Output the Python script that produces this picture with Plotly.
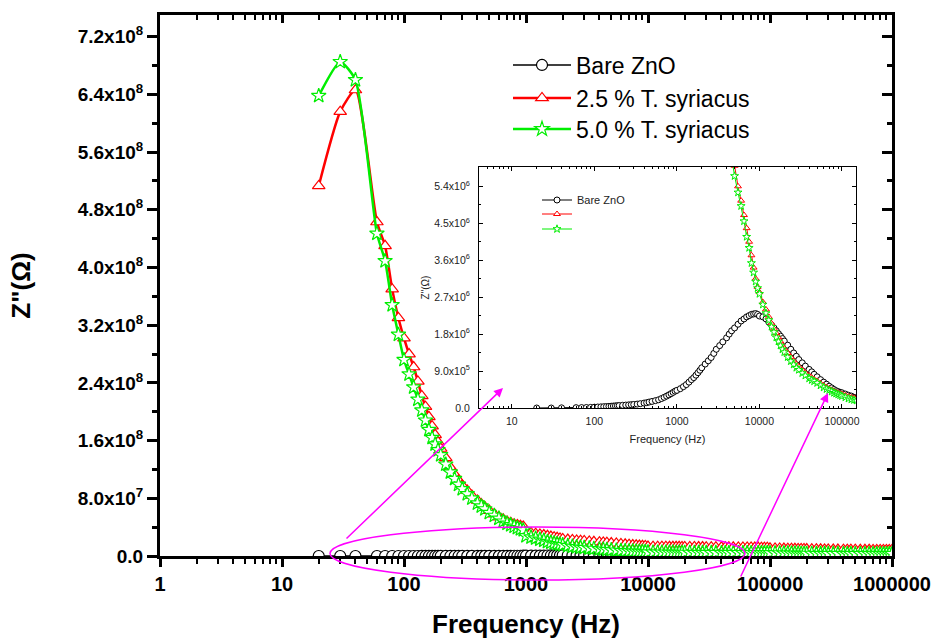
import plotly.graph_objects as go

# ---------------- data ----------------
FREQ = [20, 30, 40, 60, 70, 80, 90, 100, 110, 120, 130, 140, 150, 160, 170, 180, 190, 200,
        220, 240, 260, 280, 300, 330, 360, 400, 430, 460, 500, 550, 600, 650, 700, 750, 800, 850, 900, 950,
        1000, 1100, 1200, 1300, 1400, 1500, 1600, 1700, 1800, 1900, 2000, 2200, 2400, 2600, 2800,
        3000, 3300, 3600, 4000, 4300, 4600, 5000, 5500, 6000, 6500, 7000, 7500, 8000, 8500, 9000, 9500,
        10000, 11000, 12000, 13000, 14000, 15000, 16000, 17000, 18000, 19000, 20000, 22000, 24000, 26000, 28000,
        30000, 33000, 36000, 40000, 43000, 46000, 50000, 55000, 60000, 65000, 70000, 75000, 80000, 85000, 90000, 95000,
        100000, 110000, 120000, 130000, 140000, 150000, 160000, 170000, 180000, 190000, 200000, 220000, 240000,
        260000, 280000, 300000, 330000, 360000, 400000, 430000, 460000, 500000, 550000, 600000, 650000,
        700000, 750000, 800000, 850000, 900000, 950000, 1000000]

BARE_ZNO = [0.0, 0.0, 0.004e6, 0.008e6, 0.010e6, 0.012e6, 0.015e6, 0.020e6, 0.024e6, 0.028e6, 0.032e6,
            0.036e6, 0.040e6, 0.044e6, 0.048e6, 0.052e6, 0.056e6, 0.060e6, 0.066e6, 0.071e6, 0.076e6,
            0.081e6, 0.086e6, 0.095e6, 0.105e6, 0.120e6, 0.130e6, 0.145e6, 0.160e6, 0.180e6, 0.200e6,
            0.230e6, 0.260e6, 0.290e6, 0.320e6, 0.350e6, 0.380e6, 0.410e6,
            0.43e6, 0.47e6, 0.52e6, 0.57e6, 0.63e6, 0.69e6, 0.74e6, 0.80e6, 0.86e6, 0.92e6, 0.98e6,
            1.07e6, 1.15e6, 1.23e6, 1.33e6, 1.43e6, 1.52e6, 1.61e6, 1.71e6, 1.80e6, 1.88e6, 1.95e6,
            2.04e6, 2.12e6, 2.17e6, 2.22e6, 2.25e6, 2.28e6, 2.29e6, 2.30e6, 2.28e6,
            2.24e6, 2.22e6, 2.17e6, 2.09e6, 2.02e6, 1.95e6, 1.88e6, 1.81e6, 1.75e6, 1.69e6, 1.63e6,
            1.53e6, 1.43e6, 1.34e6, 1.26e6, 1.18e6, 1.10e6, 1.02e6, 0.94e6, 0.88e6, 0.82e6, 0.76e6,
            0.69e6, 0.63e6, 0.58e6, 0.53e6, 0.49e6, 0.45e6, 0.42e6, 0.40e6, 0.38e6,
            0.37e6, 0.34e6, 0.31e6, 0.29e6, 0.26e6, 0.24e6, 0.23e6, 0.21e6, 0.20e6, 0.19e6, 0.18e6,
            0.165e6, 0.15e6, 0.14e6, 0.13e6, 0.12e6, 0.11e6, 0.10e6, 0.09e6, 0.085e6, 0.08e6, 0.07e6,
            0.065e6, 0.06e6, 0.055e6, 0.05e6, 0.047e6, 0.044e6, 0.041e6, 0.038e6, 0.036e6, 0.035e6]

TS_25 = [5.13e8, 6.16e8, 6.46e8, 4.63e8, 4.30e8, 3.70e8, 3.30e8, 3.02e8, 2.80e8, 2.62e8, 2.42e8,
         2.22e8, 2.07e8, 1.93e8, 1.80e8, 1.68e8, 1.58e8, 1.49e8, 1.36e8, 1.23e8, 1.13e8, 1.05e8,
         9.8e7, 9.1e7, 8.4e7, 7.7e7, 7.2e7, 6.8e7, 6.3e7, 5.8e7, 5.4e7, 5.1e7, 4.8e7, 4.6e7, 4.4e7,
         4.3e7, 4.2e7, 4.1e7,
         3.33e7, 3.20e7, 3.10e7, 3.00e7, 2.90e7, 2.80e7, 2.70e7, 2.60e7, 2.52e7, 2.44e7, 2.36e7,
         2.28e7, 2.22e7, 2.16e7, 2.12e7, 2.08e7, 2.02e7, 1.97e7, 1.92e7, 1.88e7, 1.84e7, 1.80e7,
         1.74e7, 1.68e7, 1.62e7, 1.57e7, 1.52e7, 1.48e7, 1.45e7, 1.42e7, 1.40e7,
         1.31e7, 1.30e7, 1.30e7, 1.29e7, 1.29e7, 1.28e7, 1.28e7, 1.27e7, 1.27e7, 1.26e7, 1.26e7,
         1.25e7, 1.25e7, 1.24e7, 1.24e7, 1.23e7, 1.22e7, 1.22e7, 1.21e7, 1.21e7, 1.20e7, 1.20e7,
         1.19e7, 1.19e7, 1.18e7, 1.18e7, 1.17e7, 1.17e7, 1.16e7, 1.16e7, 1.15e7,
         1.06e7, 1.05e7, 1.04e7, 1.03e7, 1.02e7, 1.01e7, 1.00e7, 9.9e6, 9.8e6, 9.7e6, 9.6e6,
         9.5e6, 9.4e6, 9.3e6, 9.2e6, 9.1e6, 9.0e6, 8.9e6, 8.8e6, 8.8e6, 8.7e6, 8.7e6, 8.6e6,
         8.6e6, 8.6e6, 8.5e6, 8.5e6, 8.5e6, 8.5e6, 8.5e6, 8.5e6, 8.5e6]

TS_50 = [6.38e8, 6.85e8, 6.60e8, 4.47e8, 4.09e8, 3.48e8, 3.07e8, 2.72e8, 2.52e8, 2.34e8, 2.17e8,
         2.02e8, 1.88e8, 1.75e8, 1.64e8, 1.55e8, 1.47e8, 1.40e8, 1.27e8, 1.16e8, 1.07e8, 9.9e7,
         9.3e7, 8.6e7, 8.0e7, 7.3e7, 6.9e7, 6.5e7, 6.0e7, 5.6e7, 5.2e7, 4.8e7, 4.5e7, 4.3e7, 4.1e7,
         3.9e7, 3.75e7, 3.6e7,
         2.77e7, 2.60e7, 2.45e7, 2.30e7, 2.15e7, 1.98e7, 1.88e7, 1.78e7, 1.68e7, 1.60e7, 1.53e7,
         1.42e7, 1.32e7, 1.25e7, 1.19e7, 1.15e7, 1.08e7, 1.02e7, 9.6e6, 9.2e6, 8.7e6, 8.3e6,
         7.8e6, 7.4e6, 7.0e6, 6.8e6, 6.6e6, 6.4e6, 6.2e6, 6.1e6, 6.0e6,
         5.2e6, 5.1e6, 5.1e6, 5.0e6, 5.0e6, 4.9e6, 4.9e6, 4.8e6, 4.8e6, 4.7e6, 4.7e6,
         4.7e6, 4.6e6, 4.6e6, 4.6e6, 4.5e6, 4.5e6, 4.5e6, 4.4e6, 4.4e6, 4.4e6, 4.4e6,
         4.3e6, 4.3e6, 4.3e6, 4.3e6, 4.3e6, 4.3e6, 4.3e6, 4.3e6, 4.3e6,
         4.2e6, 4.1e6, 4.0e6, 3.9e6, 3.8e6, 3.7e6, 3.6e6, 3.5e6, 3.4e6, 3.4e6, 3.3e6,
         3.3e6, 3.2e6, 3.2e6, 3.2e6, 3.1e6, 3.1e6, 3.1e6, 3.0e6, 3.0e6, 3.0e6, 3.0e6, 3.0e6,
         3.0e6, 3.0e6, 3.0e6, 3.0e6, 3.0e6, 3.0e6, 3.0e6, 3.0e6, 3.0e6]

# inset (zoomed view) of the two doped samples
FREQ_INSET = [4600, 5000, 5500, 6000, 6500, 7000, 7500, 8000, 8500, 9000, 9500,
              10000, 11000, 12000, 13000, 14000, 15000, 16000, 17000, 18000, 19000, 20000,
              22000, 24000, 26000, 28000, 30000, 33000, 36000, 40000, 43000, 46000, 50000,
              55000, 60000, 65000, 70000, 75000, 80000, 85000, 90000, 95000,
              100000, 110000, 120000, 130000, 140000, 150000]
TS_25_INSET = [6.2e6, 5.9e6, 5.4e6, 5.05e6, 4.7e6, 4.38e6, 4.05e6, 3.72e6, 3.42e6, 3.15e6, 2.95e6,
               2.82e6, 2.58e6, 2.40e6, 2.22e6, 2.06e6, 1.93e6, 1.82e6, 1.72e6, 1.62e6, 1.52e6, 1.45e6,
               1.34e6, 1.24e6, 1.15e6, 1.07e6, 1.01e6, 0.93e6, 0.86e6, 0.79e6, 0.74e6, 0.70e6, 0.66e6,
               0.60e6, 0.55e6, 0.51e6, 0.47e6, 0.44e6, 0.41e6, 0.39e6, 0.37e6, 0.35e6,
               0.34e6, 0.31e6, 0.28e6, 0.26e6, 0.25e6, 0.24e6]
TS_50_INSET = [6.1e6, 5.65e6, 5.25e6, 4.92e6, 4.55e6, 4.17e6, 3.90e6, 3.53e6, 3.30e6, 3.08e6, 2.92e6,
               2.78e6, 2.52e6, 2.31e6, 2.14e6, 1.98e6, 1.85e6, 1.72e6, 1.62e6, 1.52e6, 1.43e6, 1.36e6,
               1.24e6, 1.14e6, 1.06e6, 0.98e6, 0.93e6, 0.85e6, 0.79e6, 0.72e6, 0.68e6, 0.65e6, 0.61e6,
               0.55e6, 0.50e6, 0.46e6, 0.43e6, 0.40e6, 0.37e6, 0.35e6, 0.33e6, 0.31e6,
               0.29e6, 0.26e6, 0.23e6, 0.21e6, 0.195e6, 0.18e6]

NAMES = ["Bare ZnO", "2.5 % T. syriacus", "5.0 % T. syriacus"]
INSET_NAMES = ["Bare ZnO", " ", " "]
X_TICKS = [1, 10, 100, 1000, 10000, 100000, 1000000]
X_TICKTEXT = ["1", "10", "100", "1000", "10000", "100000", "1000000"]
Y_TICKS = [0, 0.8e8, 1.6e8, 2.4e8, 3.2e8, 4.0e8, 4.8e8, 5.6e8, 6.4e8, 7.2e8]
Y_TICKTEXT = ["0.0", "8.0x10<sup>7</sup>", "1.6x10<sup>8</sup>", "2.4x10<sup>8</sup>", "3.2x10<sup>8</sup>",
              "4.0x10<sup>8</sup>", "4.8x10<sup>8</sup>", "5.6x10<sup>8</sup>", "6.4x10<sup>8</sup>",
              "7.2x10<sup>8</sup>"]
IX_TICKS = [10, 100, 1000, 10000, 100000]
IX_TICKTEXT = ["10", "100", "1000", "10000", "100000"]
IY_TICKS = [0, 0.9e6, 1.8e6, 2.7e6, 3.6e6, 4.5e6, 5.4e6]
IY_TICKTEXT = ["0.0", "9.0x10<sup>5</sup>", "1.8x10<sup>6</sup>", "2.7x10<sup>6</sup>",
               "3.6x10<sup>6</sup>", "4.5x10<sup>6</sup>", "5.4x10<sup>6</sup>"]

# ---------------- styling ----------------
BLACK, RED, GREEN, MAG = "#000000", "#FF0000", "#00EE00", "#FF00FF"
FONT = "Arial, Liberation Sans, sans-serif"
COLORS = [BLACK, RED, GREEN]
SYMBOLS = ["circle", "triangle-up", "star"]

minor_x = [m * 10 ** d for d in range(0, 6) for m in range(2, 10)]
minor_y = [v + 0.4e8 for v in Y_TICKS]
minor_iy = [v + 0.45e6 for v in IY_TICKS]

# plot area in pixels (for placing legends)
PL, PT, PW, PH = 160, 15, 732, 541
def px(xpix):
    return (xpix - PL) / PW
def py(ypix):
    return (PT + PH - ypix) / PH

fig = go.Figure()

main_series = [BARE_ZNO, TS_25, TS_50]
main_legends = ["legend", "legend2", "legend3"]
for i in range(3):
    fig.add_trace(go.Scatter(
        x=FREQ, y=main_series[i], name=NAMES[i], mode="lines+markers",
        line=dict(color=COLORS[i], width=1.5 if i == 0 else 2.5, shape="spline", smoothing=0.6),
        marker=dict(symbol=SYMBOLS[i], size=11, color="white", line=dict(color=COLORS[i], width=1.2)),
        legend=main_legends[i], xaxis="x", yaxis="y"))

inset_x = [FREQ, FREQ_INSET, FREQ_INSET]
inset_series = [BARE_ZNO, TS_25_INSET, TS_50_INSET]
inset_legends = ["legend4", "legend5", "legend6"]
for i in range(3):
    fig.add_trace(go.Scatter(
        x=inset_x[i], y=inset_series[i], name=INSET_NAMES[i], mode="lines+markers",
        line=dict(color=COLORS[i], width=1),
        marker=dict(symbol=SYMBOLS[i], size=6, color="white", line=dict(color=COLORS[i], width=1)),
        legend=inset_legends[i], xaxis="x2", yaxis="y2"))

# dummy trace for the mirrored (inward-tick) top/right axes
fig.add_trace(go.Scatter(x=[None], y=[None], xaxis="x3", yaxis="y3", showlegend=False,
                         hoverinfo="skip"))

X_RANGE = [0, 6]
Y_RANGE = [0, 7.5e8]

legend_layout = {}
main_rows = [65, 98, 129]
for i, lg in enumerate(main_legends):
    legend_layout[lg] = dict(x=px(508), y=py(main_rows[i]), xanchor="left", yanchor="middle",
                             bgcolor="rgba(0,0,0,0)", font=dict(family=FONT, size=23, color="black"),
                             itemwidth=58)
inset_rows = [200, 214, 229]
for i, lg in enumerate(inset_legends):
    legend_layout[lg] = dict(x=px(537), y=py(inset_rows[i]), xanchor="left", yanchor="middle",
                             bgcolor="rgba(0,0,0,0)", font=dict(family=FONT, size=11, color="#222"),
                             itemwidth=30)

fig.update_layout(
    width=938, height=639,
    margin=dict(l=PL, r=938 - PL - PW, t=PT, b=639 - PT - PH, autoexpand=False),
    paper_bgcolor="white", plot_bgcolor="white",
    font=dict(family=FONT, color="black"),
    xaxis=dict(type="log", range=X_RANGE, domain=[0, 1], anchor="y", automargin=False,
               tickvals=X_TICKS, ticktext=X_TICKTEXT, ticks="outside", ticklen=8, tickwidth=3,
               tickcolor="black", showline=True, linewidth=3, linecolor="black", mirror=True,
               showgrid=False, zeroline=False,
               tickfont=dict(family=FONT, size=20, weight="bold"),
               minor=dict(tickvals=minor_x, ticks="outside", ticklen=5, tickwidth=2, tickcolor="black"),
               title=dict(text="Frequency (Hz)", font=dict(family=FONT, size=26, weight="bold"),
                          standoff=27)),
    yaxis=dict(range=Y_RANGE, domain=[0, 1], anchor="x", automargin=False,
               tickvals=Y_TICKS, ticktext=Y_TICKTEXT, ticks="outside", ticklen=10, tickwidth=3,
               tickcolor="black", showline=True, linewidth=3, linecolor="black", mirror=True,
               showgrid=False, zeroline=False,
               tickfont=dict(family=FONT, size=19, weight="bold"),
               minor=dict(tickvals=minor_y, ticks="outside", ticklen=5, tickwidth=3, tickcolor="black"),
               title=dict(text='Z"(Ω)', font=dict(family=FONT, size=26, weight="bold"), standoff=40)),
    xaxis3=dict(type="log", range=X_RANGE, overlaying="x", side="top", anchor="y3", automargin=False,
                tickvals=X_TICKS, ticks="inside", ticklen=8, tickwidth=2.5, tickcolor="black",
                showticklabels=False, showline=False, showgrid=False, zeroline=False,
                minor=dict(tickvals=minor_x, ticks="inside", ticklen=5, tickwidth=2, tickcolor="black")),
    yaxis3=dict(range=Y_RANGE, overlaying="y", side="right", anchor="x3", automargin=False,
                tickvals=Y_TICKS, ticks="inside", ticklen=10, tickwidth=3, tickcolor="black",
                showticklabels=False, showline=False, showgrid=False, zeroline=False,
                minor=dict(tickvals=minor_y, ticks="inside", ticklen=5, tickwidth=3, tickcolor="black")),
    xaxis2=dict(type="log", range=[0.602, 5.17], domain=[px(479), px(856)], anchor="y2", automargin=False,
                tickvals=IX_TICKS, ticktext=IX_TICKTEXT, ticks="inside", ticklen=4, tickwidth=1,
                tickcolor="black", showline=True, linewidth=1, linecolor="black", mirror="allticks",
                showgrid=False, zeroline=False, ticklabelstandoff=3,
                tickfont=dict(family=FONT, size=10.5, color="#222"),
                minor=dict(tickvals=minor_x, ticks="inside", ticklen=2, tickwidth=1, tickcolor="black"),
                title=dict(text="Frequency (Hz)", font=dict(family=FONT, size=11, color="#222"), standoff=9)),
    yaxis2=dict(range=[0, 5.87e6], domain=[py(408), py(167)], anchor="x2", automargin=False,
                tickvals=IY_TICKS, ticktext=IY_TICKTEXT, ticks="inside", ticklen=4, tickwidth=1,
                tickcolor="black", showline=True, linewidth=1, linecolor="black", mirror="allticks",
                showgrid=False, zeroline=False, ticklabelstandoff=6,
                tickfont=dict(family=FONT, size=10.5, color="#222"),
                minor=dict(tickvals=minor_iy, ticks="inside", ticklen=2, tickwidth=1, tickcolor="black"),
                title=dict(text='Z"(Ω)', font=dict(family=FONT, size=10, color="#222"), standoff=2)),
    shapes=[dict(type="circle", xref="paper", yref="paper",
                 x0=px(330), x1=px(745), y0=py(580), y1=py(527),
                 line=dict(color=MAG, width=1.5), layer="above")],
    annotations=[
        dict(xref="paper", yref="paper", x=px(503), y=py(388), ax=-158, ay=152, text="",
             showarrow=True, arrowhead=2, arrowsize=1.2, arrowwidth=1.5, arrowcolor=MAG),
        dict(xref="paper", yref="paper", x=px(828), y=py(393), ax=-88, ay=185, text="",
             showarrow=True, arrowhead=2, arrowsize=1.2, arrowwidth=1.5, arrowcolor=MAG),
    ],
    showlegend=True,
    **legend_layout,
)

fig.write_html("out.html")
